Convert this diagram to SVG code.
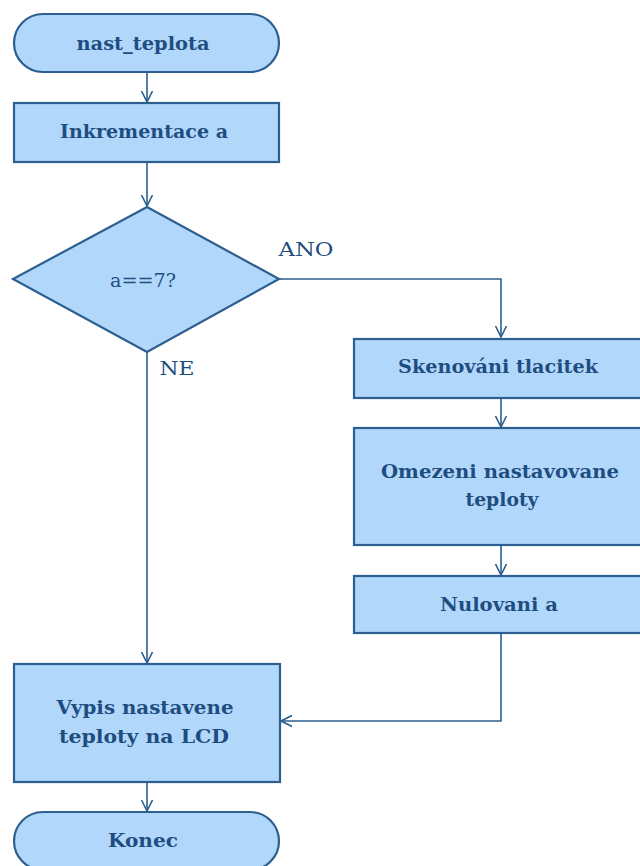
<svg xmlns="http://www.w3.org/2000/svg" width="640" height="866" viewBox="0 0 640 866">
<style>
.n{fill:#b1d8fb;stroke:#2c5f8f;stroke-width:2.2}
.t{font-family:"DejaVu Serif","Liberation Serif",serif;font-stretch:condensed;font-size:18.5px;font-weight:bold;fill:#1f4d80;text-anchor:middle}
.l{font-family:"DejaVu Serif","Liberation Serif",serif;font-stretch:condensed;font-size:18.5px;fill:#1f4d80;text-anchor:middle}
.c{fill:none;stroke:#2c5f8f;stroke-width:1.6}
</style>
<defs>
<marker id="a" markerWidth="12" markerHeight="16" refX="11" refY="7" orient="auto" markerUnits="userSpaceOnUse" viewBox="0 0 12 14">
<path d="M0,1.5 L11,7 L0,12.5" fill="none" stroke="#2c5f8f" stroke-width="1.6"/>
</marker>
</defs>
<rect width="640" height="866" fill="#ffffff"/>
<g id="connectors">
<path class="c" d="M147,72 V102" marker-end="url(#a)"/>
<path class="c" d="M147,162 V206" marker-end="url(#a)"/>
<path class="c" d="M279,279 H501 V337" marker-end="url(#a)"/>
<path class="c" d="M147,352 V663" marker-end="url(#a)"/>
<path class="c" d="M501,398 V427" marker-end="url(#a)"/>
<path class="c" d="M501,545 V575" marker-end="url(#a)"/>
<path class="c" d="M501,633 V721 H281" marker-end="url(#a)"/>
<path class="c" d="M147,782 V811" marker-end="url(#a)"/>
<text class="l" x="306" y="256" textLength="55" lengthAdjust="spacingAndGlyphs">ANO</text>
<text class="l" x="177" y="375" textLength="35" lengthAdjust="spacingAndGlyphs">NE</text>
</g>
<g id="start">
<rect class="n" x="14" y="14" width="265" height="58" rx="29" ry="29"/>
<text class="t" x="143" y="50" textLength="133" lengthAdjust="spacingAndGlyphs">nast_teplota</text>
</g>
<g id="inkrementace">
<rect class="n" x="14" y="103" width="265" height="59"/>
<text class="t" x="144" y="138" textLength="168" lengthAdjust="spacingAndGlyphs">Inkrementace a</text>
</g>
<g id="decision">
<polygon class="n" points="147,207 279,279 147,352 13,279"/>
<text class="l" x="143" y="287" textLength="66" lengthAdjust="spacingAndGlyphs">a==7?</text>
</g>
<g id="skenovani">
<rect class="n" x="354" y="339" width="296" height="59"/>
<text class="t" x="498" y="373" textLength="200" lengthAdjust="spacingAndGlyphs">Skenováni tlacitek</text>
</g>
<g id="omezeni">
<rect class="n" x="354" y="428" width="296" height="117"/>
<text class="t" x="500" y="478" textLength="238" lengthAdjust="spacingAndGlyphs">Omezeni nastavovane</text>
<text class="t" x="502" y="506" textLength="73" lengthAdjust="spacingAndGlyphs">teploty</text>
</g>
<g id="nulovani">
<rect class="n" x="354" y="576" width="296" height="57"/>
<text class="t" x="499" y="611" textLength="118" lengthAdjust="spacingAndGlyphs">Nulovani a</text>
</g>
<g id="vypis">
<rect class="n" x="14" y="664" width="266" height="118"/>
<text class="t" x="145" y="714" textLength="177" lengthAdjust="spacingAndGlyphs">Vypis nastavene</text>
<text class="t" x="144" y="743" textLength="170" lengthAdjust="spacingAndGlyphs">teploty na LCD</text>
</g>
<g id="konec">
<rect class="n" x="14" y="812" width="265" height="58" rx="29" ry="29"/>
<text class="t" x="143" y="847" textLength="70" lengthAdjust="spacingAndGlyphs">Konec</text>
</g>
</svg>
